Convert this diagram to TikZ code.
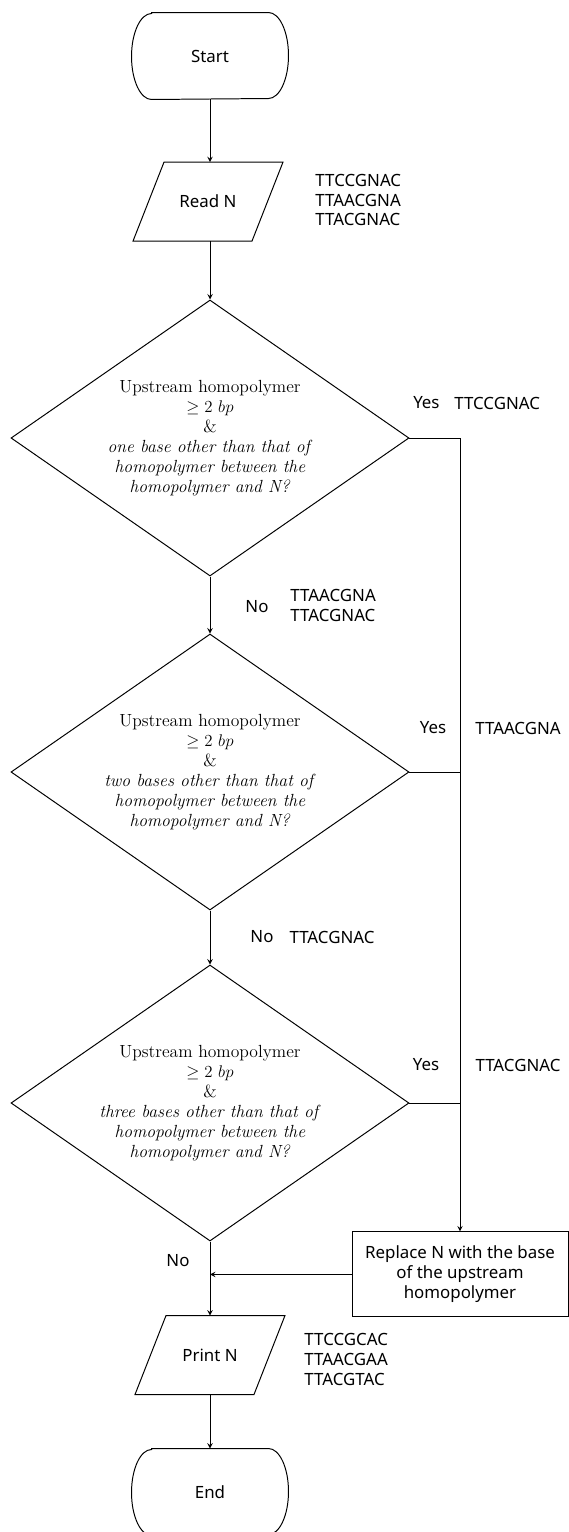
\documentclass[tikz,border=0pt]{standalone}
\usepackage{amsmath}
\usepackage{amssymb}
\usepackage{fontspec}
\setsansfont{Noto Sans}
\usepackage{tikz}
\usetikzlibrary{shapes}
\usetikzlibrary{positioning}
\newcommand{\flowfont}{\sffamily\fontsize{12}{14.2}\selectfont}
\newcommand{\condfont}{\fontsize{12.5}{14.2}\selectfont}

\begin{document}
\begin{tikzpicture}[line width=0.7pt, >=stealth,
    terminal/.style={rectangle, minimum width=3.9cm, minimum height=2.15cm, font=\flowfont},
    io/.style={rectangle, minimum width=3.725cm, minimum height=1.95cm, font=\flowfont},
    decision/.style={draw, diamond, minimum width=9.95cm, minimum height=6.9cm, inner sep=0pt},
    question/.style={align=center, font=\condfont},
    process/.style={draw, rectangle, minimum width=5.4cm, minimum height=2.125cm, align=center, font=\flowfont},
    tag/.style={align=left, inner sep=0pt, font=\flowfont}]
    %
    \useasboundingbox (0,0) rectangle (14.2,-38.3);
    %
    \node[terminal] (start) at (5.25,-1.4) {Start};
    \node[io] (read) at (5.2,-5.04) {Read N};
    \node[decision] (d1) at (5.25,-10.95) {};
    \node[decision] (d2) at (5.25,-19.3) {};
    \node[decision] (d3) at (5.25,-27.575) {};
    \node[process] (rep) at (11.5,-31.86) {Replace N with the base\\ of the upstream\\ homopolymer};
    \node[io] (print) at (5.25,-33.875) {Print N};
    \node[terminal] (end) at (5.25,-37.3) {End};
    %
    % terminals: flat top and bottom, elliptic sides
    \foreach \t in {start,end}
        \draw ([xshift=0.5cm]\t.north west) -- ([xshift=-0.5cm]\t.north east)
            arc[start angle=90, end angle=-90, x radius=0.5cm, y radius=1.075cm]
            -- ([xshift=0.5cm]\t.south west)
            arc[start angle=270, end angle=90, x radius=0.5cm, y radius=1.075cm] -- cycle;
    % input/output: slanted to the right
    \foreach \p in {read,print}
        \draw ([xshift=0.775cm]\p.north west) -- (\p.north east)
            -- ([xshift=-0.775cm]\p.south east) -- (\p.south west) -- cycle;
    %
    \node[question] (q1) at (d1) {Upstream homopolymer\\ $\geq 2\ bp$\\ \&\\ \textit{one base other than that of}\\ \textit{homopolymer between the}\\ \textit{homopolymer and N?}};
    \node[question] (q2) at (d2) {Upstream homopolymer\\ $\geq 2\ bp$\\ \&\\ \textit{two bases other than that of}\\ \textit{homopolymer between the}\\ \textit{homopolymer and N?}};
    \node[question] (q3) at (d3) {Upstream homopolymer\\ $\geq 2\ bp$\\ \&\\ \textit{three bases other than that of}\\ \textit{homopolymer between the}\\ \textit{homopolymer and N?}};
    %
    \draw[->] (start) -- (start |- read.north);
    \draw[->] (start |- read.south) -- (d1);
    \draw[->] (d1) -- (d2);
    \draw[->] (d2) -- (d3);
    \draw[->] (d3) -- (print);
    \draw[->] (print) -- (end);
    \draw (d1.east) -- (d1.east -| rep.north);
    \draw (d2.east) -- (d2.east -| rep.north);
    \draw (d3.east) -- (d3.east -| rep.north);
    \draw[->] (d1.east -| rep.north) -- (rep.north);
    \draw[->] (rep.west) -- (rep.west -| d3.south);
    %
    \node[tag, anchor=west] (seqin) at (7.875,-5.0) {TTCCGNAC\\ TTAACGNA\\ TTACGNAC};
    \node[tag] (yes1) at (10.66,-10.075) {Yes};
    \node[tag] (seqy1) at (12.43,-10.075) {TTCCGNAC};
    \node[tag] (no1) at (6.425,-15.175) {No};
    \node[tag, anchor=west] (seqn1) at (7.25,-15.125) {TTAACGNA\\ TTACGNAC};
    \node[tag] (yes2) at (10.825,-18.2) {Yes};
    \node[tag] (seqy2) at (12.95,-18.2) {TTAACGNA};
    \node[tag] (no2) at (6.55,-23.425) {No};
    \node[tag] (seqn2) at (8.3,-23.425) {TTACGNAC};
    \node[tag] (yes3) at (10.65,-26.625) {Yes};
    \node[tag] (seqy3) at (12.95,-26.625) {TTACGNAC};
    \node[tag] (no3) at (4.45,-31.525) {No};
    \node[tag, anchor=west] (seqout) at (7.6,-33.975) {TTCCGCAC\\ TTAACGAA\\ TTACGTAC};
    %
\end{tikzpicture}
\end{document}
